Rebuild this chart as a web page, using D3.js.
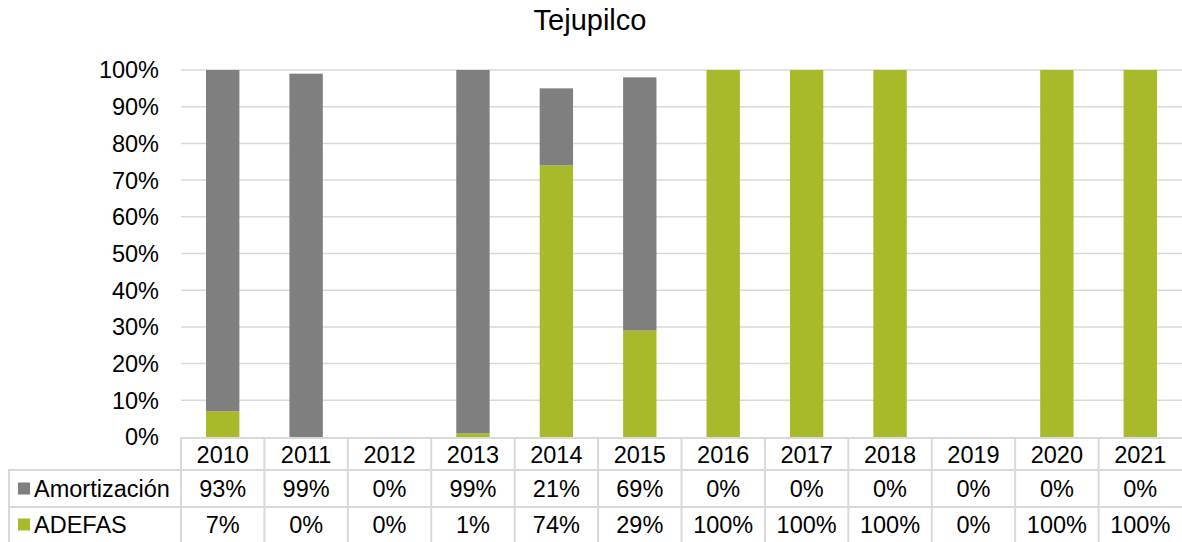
<!DOCTYPE html>
<html><head><meta charset="utf-8">
<script src="https://cdn.jsdelivr.net/npm/d3@7"></script>
<style>
html,body{margin:0;padding:0;background:#fff;}
svg{display:block;font-family:"Liberation Sans",Arial,sans-serif;}
</style></head>
<body>
<svg id="chart" width="1182" height="542"></svg>
<script>
const title = "Tejupilco";
const years = ["2010","2011","2012","2013","2014","2015","2016","2017","2018","2019","2020","2021"];
const seriesNames = ["Amortización","ADEFAS"];
const amortizacion = [93,99,0,99,21,69,0,0,0,0,0,0];
const adefas = [7,0,0,1,74,29,100,100,100,0,100,100];
const yTicks = [0,10,20,30,40,50,60,70,80,90,100];
const colors = {"Amortización":"#7f7f7f","ADEFAS":"#a8b92a"};

const svg = d3.select("#chart");
const W = 1182, H = 542;
const plot = {left:181, right:1182, top:70, bottom:437};
const tbl = {left:8, header:470, row1:507, row2:544};
const fs = 23.5;

const x = d3.scaleBand().domain(years).range([plot.left, plot.right]).paddingInner(0.6).paddingOuter(0.3);
const col = d3.scaleBand().domain(years).range([plot.left, plot.right]);
const y = d3.scaleLinear().domain([0,100]).range([plot.bottom, plot.top]);

// gridlines
svg.append("g").selectAll("line").data(yTicks.filter(t=>t>0)).join("line")
  .attr("x1", plot.left).attr("x2", plot.right)
  .attr("y1", d=>y(d)).attr("y2", d=>y(d))
  .attr("stroke","#d9d9d9").attr("stroke-width",1.5);

// y tick labels
svg.append("g").selectAll("text").data(yTicks).join("text")
  .attr("x", 159).attr("y", d=>y(d)).attr("dy","0.36em")
  .attr("text-anchor","end").attr("font-size",fs).attr("fill","#000")
  .text(d=>d+"%");

// stacked bars
const rows = years.map((yr,i)=>({year:yr, "ADEFAS":adefas[i], "Amortización":amortizacion[i]}));
const stack = d3.stack().keys(["ADEFAS","Amortización"])(rows);
svg.append("g").selectAll("g").data(stack).join("g")
  .attr("fill", s=>colors[s.key])
  .selectAll("rect").data(s=>s).join("rect")
  .attr("x", d=>x(d.data.year)).attr("width", x.bandwidth())
  .attr("y", d=>y(d[1])).attr("height", d=>y(d[0])-y(d[1]));

// data table
const lineColor = "#d9d9d9";
const g = svg.append("g");
g.append("line").attr("x1",plot.left).attr("x2",W).attr("y1",plot.bottom+1).attr("y2",plot.bottom+1).attr("stroke",lineColor).attr("stroke-width",2);
[tbl.header, tbl.row1].forEach(yy=>{
  g.append("line").attr("x1",tbl.left).attr("x2",W).attr("y1",yy).attr("y2",yy).attr("stroke",lineColor).attr("stroke-width",2);
});
g.append("line").attr("x1",tbl.left+1).attr("x2",tbl.left+1).attr("y1",tbl.header).attr("y2",H).attr("stroke",lineColor).attr("stroke-width",2);
g.selectAll("line.v").data(years).join("line").attr("class","v")
  .attr("x1",d=>col(d)).attr("x2",d=>col(d))
  .attr("y1",plot.bottom).attr("y2",H).attr("stroke",lineColor).attr("stroke-width",2);

// header
g.selectAll("text.yr").data(years).join("text").attr("class","yr")
  .attr("x",d=>col(d)+col.bandwidth()/2).attr("y",(plot.bottom+tbl.header)/2+1).attr("dy","0.36em")
  .attr("text-anchor","middle").attr("font-size",fs).text(d=>d);

const rowDefs = [
  {name:"Amortización", vals:amortizacion, cy:(tbl.header+tbl.row1)/2},
  {name:"ADEFAS", vals:adefas, cy:(tbl.row1+tbl.row2)/2 - 1}
];
rowDefs.forEach(r=>{
  g.append("rect").attr("x",18).attr("y",r.cy-6).attr("width",12).attr("height",12).attr("fill",colors[r.name]);
  g.append("text").attr("x",34).attr("y",r.cy).attr("dy","0.36em").attr("font-size",fs).text(r.name);
  g.selectAll(null).data(years).join("text")
    .attr("x",(d)=>col(d)+col.bandwidth()/2).attr("y",r.cy).attr("dy","0.36em")
    .attr("text-anchor","middle").attr("font-size",fs)
    .text((d,i)=>r.vals[i]+"%");
});

// title
svg.append("text").attr("x",590).attr("y",30).attr("text-anchor","middle")
  .attr("font-size",29).attr("fill","#000").text(title);
</script>
</body></html>
